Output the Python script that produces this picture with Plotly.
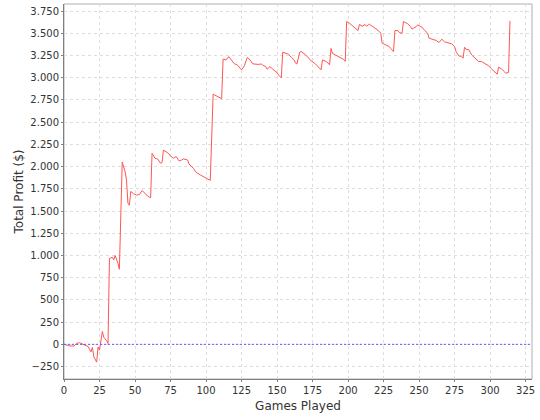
import plotly.graph_objects as go

# cumulative profit, at the points where the line turns
games = [0, 4, 7, 9, 11, 13, 15, 17, 19, 20, 21, 23, 24, 25, 27, 28, 30, 31,
         32, 34, 35, 36, 38, 39, 41, 43, 44, 45, 46, 47, 49, 51, 53, 55, 57, 59, 61,
         62, 64, 66, 68, 69, 70, 73, 75, 77, 79, 81, 83, 84, 87, 88, 91, 93, 96, 99,
         101, 103, 105, 107, 109, 111, 112, 114, 116, 118, 120, 122, 125, 127, 129,
         131, 133, 137, 139, 140, 142, 143, 145, 147, 150, 151, 153, 154, 156, 158,
         160, 162, 163, 164, 166, 167, 170, 172, 174, 177, 179, 181, 182, 185, 187,
         188, 189, 192, 194, 197, 198, 199, 201, 204, 206, 207, 208, 210, 212, 213,
         215, 217, 219, 221, 223, 224, 227, 229, 230, 232, 233, 235, 236, 238, 239,
         242, 244, 245, 246, 248, 249, 252, 254, 256, 257, 260, 262, 264, 266, 268,
         270, 273, 275, 276, 278, 280, 281, 282, 283, 285, 287, 289, 292, 294, 296,
         299, 301, 303, 305, 306, 308, 310, 311, 313, 314]
profit = [0, -18, -20, 12, 18, 5, -15, -25, -85, -35, -140, -200, -30, -65, 145, 80, 40, 10,
          965, 980, 950, 1000, 910, 845, 2050, 1945, 1850, 1590, 1565, 1720, 1695, 1680,
          1685, 1730, 1700, 1665, 1650,
          2150, 2095, 2085, 2038, 2045, 2185, 2157, 2120, 2094, 2113, 2064, 2075, 2087,
          2075, 2030, 1982, 1937, 1906, 1876, 1858, 1845, 2815, 2796, 2780, 2765, 3210,
          3200, 3238, 3200, 3156, 3145, 3089, 3134, 3227, 3200, 3156, 3150, 3156, 3140,
          3126, 3096, 3126, 3096, 3058, 3032, 3000, 3288, 3280, 3265, 3230, 3201, 3164,
          3155, 3290, 3295, 3260, 3220, 3190, 3156, 3126, 3089, 3201, 3180, 3145, 3330,
          3275, 3245, 3230, 3205, 3185, 3633, 3614, 3570, 3547, 3531, 3600, 3580, 3600,
          3580, 3603, 3575, 3558, 3535, 3502, 3389, 3366, 3351, 3330, 3295, 3531, 3531,
          3510, 3500, 3633, 3607, 3576, 3547, 3558, 3576, 3595, 3570, 3531, 3502, 3445,
          3426, 3420, 3396, 3434, 3404, 3396, 3381, 3351, 3295, 3246, 3239, 3220, 3344,
          3321, 3315, 3257, 3231, 3182, 3182, 3164, 3134, 3100, 3070, 3040, 3119, 3100,
          3070, 3051, 3060, 3640]

fig = go.Figure()
fig.add_trace(go.Scatter(x=games, y=profit, mode='lines',
                         line=dict(color='rgb(255,85,85)', width=1),
                         showlegend=False, hoverinfo='skip'))

# blue marker at zero profit
fig.add_shape(type='line', xref='paper', yref='y', x0=0, x1=1, y0=0, y1=0,
              line=dict(color='rgb(90,90,255)', width=1, dash='2px,2px'))
# plot outline
fig.add_shape(type='rect', xref='paper', yref='paper', x0=0, x1=1, y0=0, y1=1,
              line=dict(color='#b0b0b0', width=1), layer='below')

axis_font = dict(family='DejaVu Sans', size=10, color='#333333')
fig.update_layout(
    width=540, height=420,
    margin=dict(l=64, r=8, t=4, b=41),
    paper_bgcolor='white', plot_bgcolor='white',
    separators=',.',
    font=dict(family='DejaVu Sans', size=12, color='#333333'),
    xaxis=dict(range=[0, 329.5], dtick=25, tick0=0, tickformat=',d',
               automargin=False,
               showgrid=True, gridcolor='#dedede', griddash='3px,3px',
               zeroline=False, showline=True, linecolor='#808080',
               ticks='outside', ticklen=2, tickcolor='#808080',
               tickfont=axis_font,
               title=dict(text='Games Played', standoff=6,
                          font=dict(family='DejaVu Sans', size=12))),
    yaxis=dict(range=[-390, 3830], dtick=250, tick0=0, tickformat=',d',
               automargin=False,
               showgrid=True, gridcolor='#dedede', griddash='3px,3px',
               zeroline=False, showline=True, linecolor='#808080',
               ticks='outside', ticklen=2, tickcolor='#808080',
               tickfont=axis_font,
               title=dict(text='Total Profit ($)', standoff=4,
                          font=dict(family='DejaVu Sans', size=12))),
)

# the page's default body margin would push the chart 8px off the window
fig.write_html("out.html", config={'displayModeBar': False},
               post_script="document.body.style.margin='0';")
